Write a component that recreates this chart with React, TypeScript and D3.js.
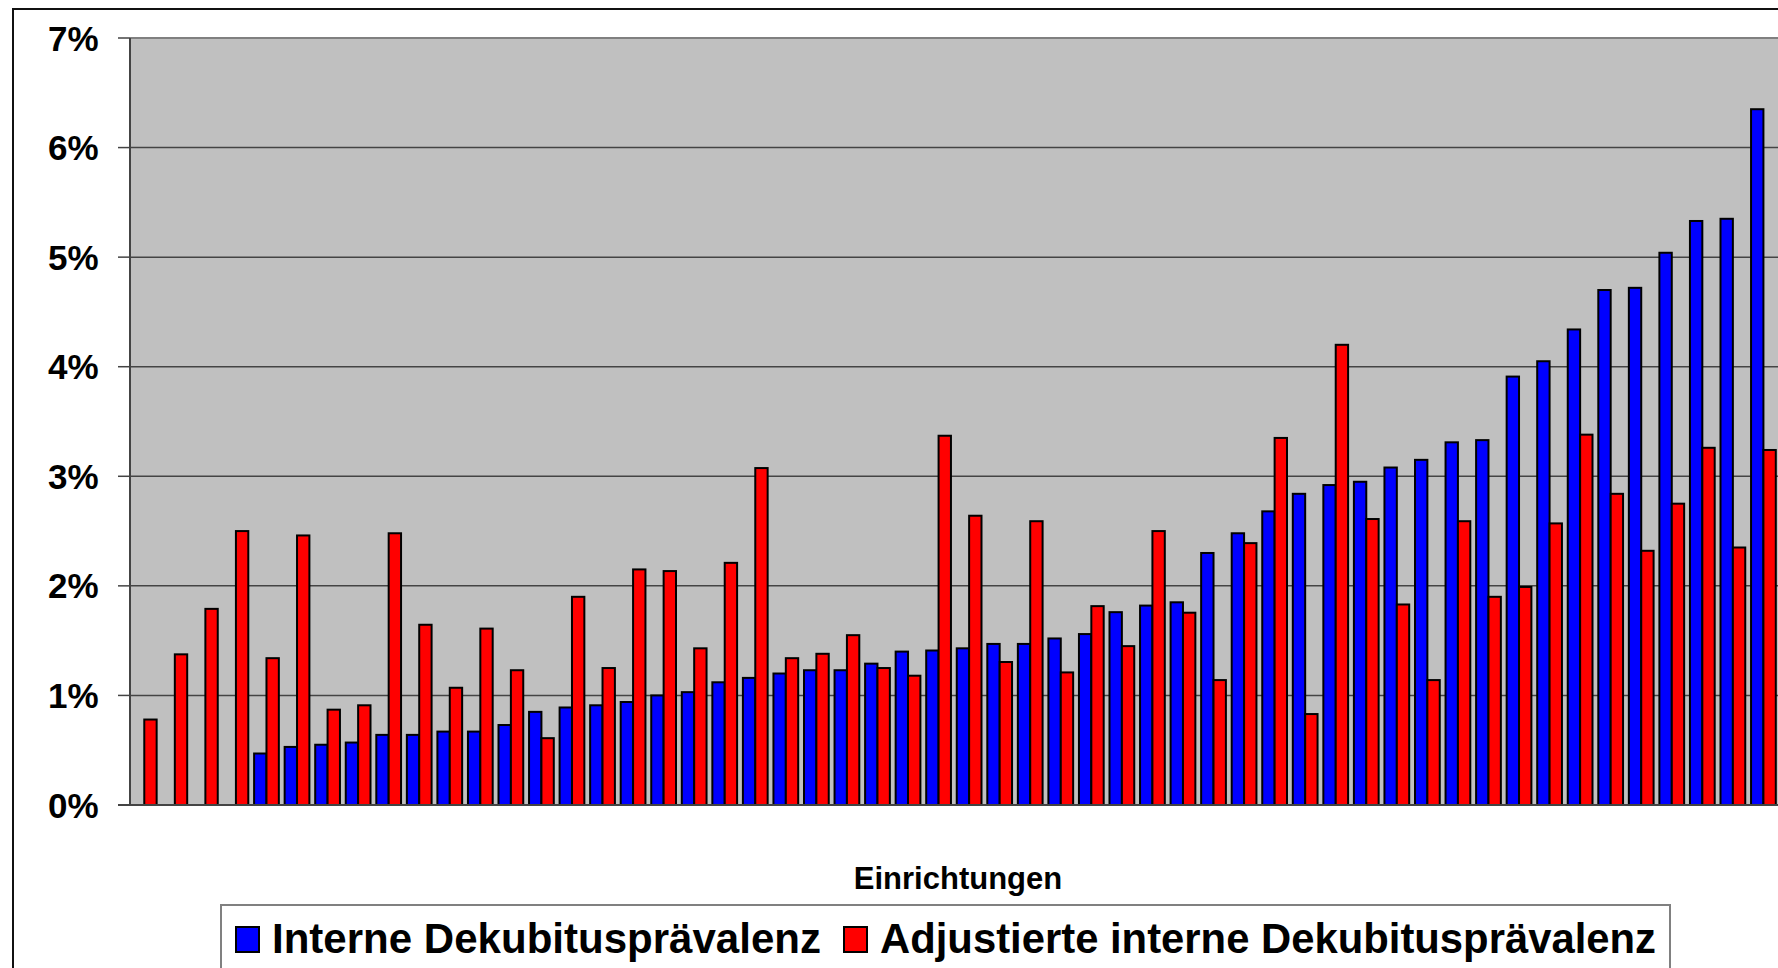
import React from "react";
import * as d3 from "d3";

// Interne vs. adjustierte interne Dekubitusprävalenz je Einrichtung (in %)
const einrichtungen = d3.range(54).map((i) => `E${i + 1}`);
const interne = [
  0, 0, 0, 0, 0.47, 0.53, 0.55, 0.57, 0.64, 0.64,
  0.67, 0.67, 0.73, 0.85, 0.89, 0.91, 0.94, 1.0, 1.03, 1.12,
  1.16, 1.2, 1.23, 1.23, 1.29, 1.4, 1.41, 1.43, 1.47, 1.47,
  1.52, 1.56, 1.76, 1.82, 1.85, 2.3, 2.48, 2.68, 2.84, 2.92,
  2.95, 3.08, 3.15, 3.31, 3.33, 3.91, 4.05, 4.34, 4.7, 4.72,
  5.04, 5.33, 5.35, 6.35,
];
const adjustierte = [
  0.78, 1.375, 1.79, 2.5, 1.34, 2.46, 0.87, 0.91, 2.48, 1.645,
  1.07, 1.61, 1.23, 0.61, 1.9, 1.25, 2.15, 2.135, 1.43, 2.21,
  3.075, 1.34, 1.38, 1.55, 1.25, 1.18, 3.37, 2.64, 1.305, 2.59,
  1.21, 1.815, 1.45, 2.5, 1.755, 1.14, 2.39, 3.35, 0.83, 4.2,
  2.61, 1.83, 1.14, 2.59, 1.9, 1.99, 2.57, 3.38, 2.84, 2.32,
  2.75, 3.26, 2.35, 3.24,
];
const seriesNames = ["Interne Dekubitusprävalenz", "Adjustierte interne Dekubitusprävalenz"];
const seriesColors = ["#0000FF", "#FF0000"];
const yTicks = [0, 1, 2, 3, 4, 5, 6, 7];

const W = 1778;
const H = 968;
const font = "'Liberation Sans', Arial, sans-serif";

export default function App() {
  const plotLeft = 130;
  const plotTop = 38;
  const plotBottom = 805;
  const step = 30.55;

  const x = d3
    .scaleBand<string>()
    .domain(einrichtungen)
    .range([plotLeft - 1, plotLeft - 1 + step * einrichtungen.length])
    .paddingInner(0.19)
    .paddingOuter(0.095);
  const xs = d3.scaleBand<number>().domain([0, 1]).range([0, x.bandwidth()]);
  const y = d3.scaleLinear().domain([0, 7]).range([plotBottom, plotTop]);

  const series = [interne, adjustierte];

  return (
    <svg
      width={W}
      height={H}
      style={{ position: "absolute", left: 0, top: 0, background: "#fff" }}
      fontFamily={font}
    >
      {/* outer chart frame */}
      <rect x={13} y={9} width={W + 20} height={H + 20} fill="#fff" stroke="#111" strokeWidth={2} />

      {/* plot area */}
      <rect x={plotLeft} y={plotTop} width={W - plotLeft + 10} height={plotBottom - plotTop} fill="#C0C0C0" />
      <line x1={plotLeft} x2={W + 10} y1={plotTop} y2={plotTop} stroke="#808080" strokeWidth={2} />

      {yTicks.map((t) => (
        <g key={t}>
          {t > 0 && t < 7 && (
            <line x1={plotLeft} x2={W + 10} y1={y(t)} y2={y(t)} stroke="#444" strokeWidth={1.5} />
          )}
          <line x1={plotLeft - 12} x2={plotLeft} y1={y(t)} y2={y(t)} stroke="#444" strokeWidth={1.5} />
          <text
            x={98.5}
            y={y(t)}
            dy="0.36em"
            textAnchor="end"
            fontSize={35}
            fontWeight="bold"
            fill="#000"
          >
            {t}%
          </text>
        </g>
      ))}

      {/* bars */}
      {einrichtungen.map((c, i) => (
        <g key={c} transform={`translate(${x(c)},0)`}>
          {series.map((s, k) =>
            s[i] > 0 ? (
              <rect
                key={k}
                x={xs(k)}
                y={y(s[i])}
                width={xs.bandwidth()}
                height={y(0) - y(s[i])}
                fill={seriesColors[k]}
                stroke="#000"
                strokeWidth={2}
              />
            ) : null
          )}
        </g>
      ))}

      <line x1={plotLeft} x2={plotLeft} y1={plotTop} y2={plotBottom} stroke="#444" strokeWidth={2} />
      <line x1={plotLeft - 12} x2={W + 10} y1={plotBottom} y2={plotBottom} stroke="#444" strokeWidth={2} />

      {/* axis title */}
      <text x={958} y={889} textAnchor="middle" fontSize={31} fontWeight="bold" fill="#000">
        Einrichtungen
      </text>

      {/* legend */}
      <rect x={221} y={905} width={1449} height={80} fill="#fff" stroke="#808080" strokeWidth={2} />
      <rect x={236} y={927} width={23} height={25} fill={seriesColors[0]} stroke="#000" strokeWidth={2} />
      <text x={272} y={953} fontSize={42} fontWeight="bold" fill="#000" textLength={549} lengthAdjust="spacingAndGlyphs">
        {seriesNames[0]}
      </text>
      <rect x={844} y={927} width={23} height={25} fill={seriesColors[1]} stroke="#000" strokeWidth={2} />
      <text x={880} y={953} fontSize={42} fontWeight="bold" fill="#000" textLength={776} lengthAdjust="spacingAndGlyphs">
        {seriesNames[1]}
      </text>
    </svg>
  );
}
